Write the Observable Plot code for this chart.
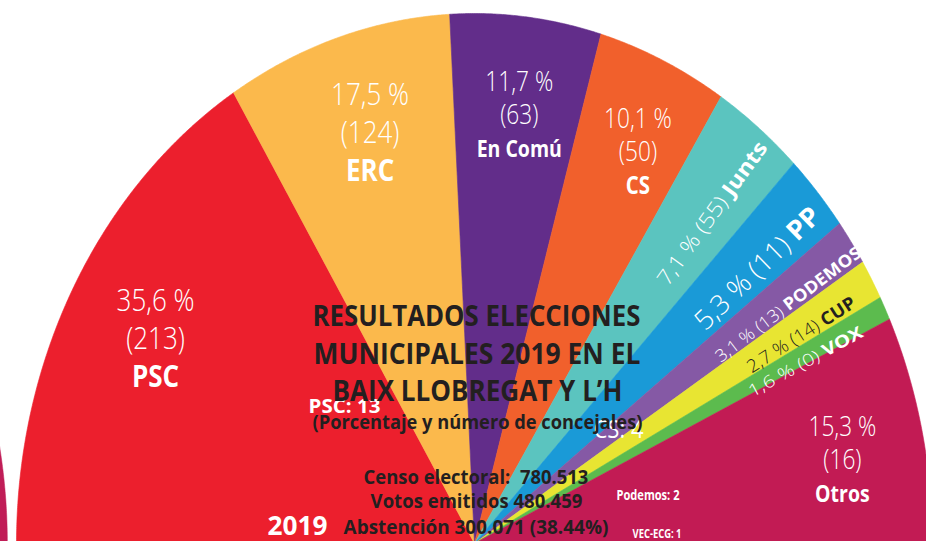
<!DOCTYPE html>
<html><head><meta charset="utf-8">
<script src="https://cdn.jsdelivr.net/npm/d3@7"></script>
<script src="https://cdn.jsdelivr.net/npm/@observablehq/plot@0.6"></script>
<style>
html,body{margin:0;padding:0;background:#fff;overflow:hidden;}
#chart svg{display:block;}
</style></head><body>
<div id="chart"></div>
<script>
// ---------- data ----------
const parties = ["PSC","ERC","En Comú","CS","Junts","PP","PODEMOS","CUP","VOX","Otros"];
const percents = [35.6,17.5,11.7,10.1,7.1,5.3,3.1,2.7,1.6,15.3];
const councillors = [213,124,63,50,55,11,13,14,0,16];
const partyColors = ["#ec1f2d","#fbb94c","#622d8a","#f1602c","#5bc4bf","#1a9ad7","#8559a5","#e8e532","#5cbb4e","#c21b54"];
const titleLines = ["RESULTADOS ELECCIONES","MUNICIPALES 2019 EN EL","BAIX LLOBREGAT Y L’H"];
const subtitleLine = "(Porcentaje y número de concejales)";
const statsLines = ["Censo electoral:  780.513","Votos emitidos 480.459","Abstención 300.071 (38.44%)"];
const mayorLabels = ["PSC: 13","CS: 4","Podemos: 2","VEC-ECG: 1"];
const yearLabel = "2019";
const neighbourColor = "#c01d57";

// ---------- layout ----------
const W = 926, H = 541;
const cx = 474, cy = 543, rx = 458, ry = 530;
const dark = "#231f20";
const labelLayout = {
  "PSC":     {r: 0.798, shift: -0.1, size: 31, bold: 1.0},
  "ERC":     {r: 0.811, shift: -1.1, size: 31, bold: 1.0},
  "En Comú": {r: 0.818, shift: -0.4, size: 27, bold: 0.86},
  "CS":      {r: 0.823, shift: -1.4, size: 27, bold: 0.9},
  "Junts":   {r: 0.811, shift: -1.5, size: 21, radial: true, w: 172},
  "PP":      {r: 0.807, shift: -1.5, size: 27, radial: true, w: 163},
  "PODEMOS": {r: 0.820, shift: -1.3, size: 17, radial: true, w: 178},
  "CUP":     {r: 0.815, shift: -1.0, size: 18, radial: true, w: 125, color: dark},
  "VOX":     {r: 0.800, shift: -1.0, size: 17, radial: true, w: 128},
  "Otros":   {r: 0.819, shift: -1.26, size: 27, bold: 0.86}
};
const titleLayout = [
  {text: titleLines[0], x: 476, base: 325, size: 28, w: 328, weight: 700, color: dark},
  {text: titleLines[1], x: 476.5, base: 363, size: 28, w: 327, weight: 700, color: dark},
  {text: titleLines[2], x: 477, base: 400, size: 28, w: 290, weight: 700, color: dark},
  {text: subtitleLine, x: 477, base: 428, size: 19, w: 330, weight: 700, color: dark},
  {text: statsLines[0], x: 475.5, base: 483, size: 20, w: 225, weight: 700, color: dark},
  {text: statsLines[1], x: 476, base: 507, size: 20, w: 212, weight: 700, color: dark},
  {text: statsLines[2], x: 475.5, base: 533, size: 20, w: 265, weight: 700, color: dark}
];
const annotLayout = [
  {text: mayorLabels[0], x: 344, base: 412, size: 19, w: 72, weight: 700},
  {text: mayorLabels[1], x: 618, base: 437, size: 26, w: 50, weight: 400},
  {text: mayorLabels[2], x: 647.5, base: 499, size: 14, w: 63, weight: 700},
  {text: mayorLabels[3], x: 656.5, base: 537, size: 12, w: 49, weight: 700},
  {text: yearLabel, x: 297, base: 534, size: 26, w: 60, weight: 700}
];

const fmt = v => v.toFixed(1).replace(".", ",");

// ---------- geometry from data ----------
const arcs = d3.pie().sort(null).startAngle(-Math.PI/2).endAngle(Math.PI/2)(percents);
const slicePts = [];
arcs.forEach((p, i) => {
  const c = partyColors[i];
  slicePts.push({party: parties[i], color: c, x: 0, y: 0});
  const n = Math.max(2, Math.ceil((p.endAngle - p.startAngle) / 0.004));
  for (let k = 0; k <= n; k++) {
    const t = p.startAngle + (p.endAngle - p.startAngle) * k / n;
    slicePts.push({party: parties[i], color: c, x: Math.sin(t), y: Math.cos(t)});
  }
  slicePts.push({party: parties[i], color: c, x: 0, y: 0});
});
// edge of the neighbouring (previous) chart, visible at the far left
const neighbourOffset = -2.02;
const neighbourPts = [{x: neighbourOffset, y: 0}];
for (let t = Math.PI/2 - 0.45; t <= Math.PI/2 + 1e-9; t += 0.004) neighbourPts.push({x: neighbourOffset + Math.sin(t), y: Math.cos(t)});
neighbourPts.push({x: neighbourOffset + 1, y: 0});

const blockLabels = [], radialLabels = [];
arcs.forEach((p, i) => {
  const L = labelLayout[parties[i]];
  const m = (p.startAngle + p.endAngle) / 2 - L.shift * Math.PI / 180;
  const d = {
    party: parties[i],
    x: L.r * Math.sin(m), y: L.r * Math.cos(m),
    size: L.size, color: L.color || "white", w: L.w, bold: L.bold,
    rot: Math.atan2(-ry * Math.cos(m), rx * Math.sin(m)) * 180 / Math.PI,
    numbers: `${fmt(percents[i])} % (${councillors[i]})`
  };
  if (L.radial) { d.text = `${d.numbers} ${parties[i]}`; radialLabels.push(d); }
  else { d.text = `${fmt(percents[i])} %\n(${councillors[i]})\n${parties[i]}`; blockLabels.push(d); }
});

const textMarks = (arr, fill) => arr.map(t => Plot.text([t], {
  text: d => d.text, frameAnchor: "top-left", dx: t.x, dy: t.base,
  textAnchor: "middle", lineAnchor: "bottom", fontSize: t.size, fontWeight: t.weight,
  fill: t.color || fill
}));

const chart = Plot.plot({
  width: W, height: H, margin: 0,
  x: {domain: [-1, 1], range: [cx - rx, cx + rx], axis: null},
  y: {domain: [0, 1], range: [cy, cy - ry], axis: null},
  color: {type: "identity"},
  style: {fontFamily: "'Open Sans', 'Noto Sans', sans-serif", background: "white", overflow: "hidden"},
  marks: [
    Plot.line(neighbourPts, {x: "x", y: "y", fill: neighbourColor, stroke: neighbourColor, strokeWidth: 0.5}),
    Plot.line(slicePts, {x: "x", y: "y", z: "party", fill: "color", stroke: "color", strokeWidth: 0.6}),
    Plot.text(blockLabels, {x: "x", y: "y", text: "text", fontSize: d => d.size, lineHeight: 1.22,
      lineAnchor: "middle", textAnchor: "middle", fill: "white", fontWeight: 300}),
    Plot.text(radialLabels, {x: "x", y: "y", text: "text", fontSize: d => d.size, rotate: d => d.rot,
      lineAnchor: "middle", textAnchor: "middle", fill: "color", fontWeight: 300}),
    ...textMarks(annotLayout, "white"),
    ...textMarks(titleLayout, dark)
  ]
});
document.getElementById("chart").append(chart);

// ---------- typographic post-processing ----------
function condense(el, k) {
  const x = parseFloat(el.getAttribute("x")) || 0;
  const t = el.getAttribute("transform") || "";
  el.setAttribute("transform", `${t} translate(${x},0) scale(${k},1) translate(${-x},0)`);
}
const SVGNS = "http://www.w3.org/2000/svg";
const allTexts = Array.from(chart.querySelectorAll("text"));
const fitted = [...titleLayout, ...annotLayout];
allTexts.forEach(el => {
  const content = el.textContent;
  const blk = blockLabels.find(b => b.text.replace(/\n/g, "") === content);
  if (blk) {
    const ts = el.querySelectorAll("tspan");
    if (ts.length) {
      const last = ts[ts.length - 1];
      const k = blk.bold;
      last.style.fontWeight = "700";
      last.setAttribute("font-size", k + "em");
      const dy = parseFloat(last.getAttribute("dy"));
      if (!isNaN(dy)) last.setAttribute("dy", (dy / k) + "em");
    }
    condense(el, 0.84);
    return;
  }
  const rad = radialLabels.find(r => r.text === content);
  if (rad) {
    el.textContent = "";
    const a = document.createElementNS(SVGNS, "tspan");
    a.textContent = rad.numbers + " ";
    a.style.fontWeight = "300";
    const b = document.createElementNS(SVGNS, "tspan");
    b.textContent = rad.party;
    b.style.fontWeight = "700";
    el.append(a, b);
    const len = el.getComputedTextLength();
    if (len > 0) condense(el, rad.w / len);
    return;
  }
  const item = fitted.find(t => t.text === content);
  if (item) {
    const len = el.getComputedTextLength();
    if (len > 0) condense(el, item.w / len);
  }
});
</script>
</body></html>
